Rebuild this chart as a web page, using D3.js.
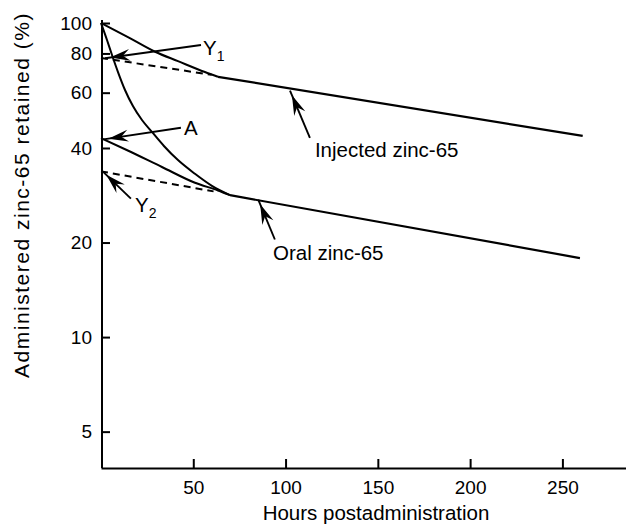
<!DOCTYPE html>
<html>
<head>
<meta charset="utf-8">
<script src="https://cdn.jsdelivr.net/npm/d3@7"></script>
<style>
  html, body { margin: 0; padding: 0; background: #fff; }
  svg { display: block; font-family: "Liberation Sans", Arial, Helvetica, sans-serif; }
</style>
</head>
<body>
<svg id="chart" width="626" height="524"></svg>
<script>
// Retention of zinc-65 (percent of administered dose, log scale) vs. hours.

// Injected dose: early fast-clearing curve, then the slow straight-line phase
const injCurveHours = [0, 14.6, 29.3, 41.7, 56.3, 63.4];
const injCurvePct   = [100, 90.2, 81.0, 75.6, 69.8, 67.4];
const injLineHours  = [63.4, 261];
const injLinePct    = [67.4, 43.7];
// Back-extrapolation of the injected slow phase to time zero (intercept Y1)
const y1Hours = [0, 60];
const y1Pct   = [77.4, 68.4];

// Oral dose: steep early curve, then slow straight-line phase
const oralCurveHours = [0, 3.25, 5.96, 9.21, 13.0, 17.3, 22.2, 27.6, 34.1, 41.7, 50.9, 60.1, 69.9];
const oralCurvePct   = [100, 88.3, 79.1, 69.8, 61.2, 54.4, 49.1, 45.0, 40.6, 36.6, 33.1, 30.3, 28.3];
const oralLineHours  = [69.9, 259.5];
const oralLinePct    = [28.3, 17.85];
// Curve starting at A (absorbed fraction)
const aCurveHours = [0, 14.8, 33.0, 50.9, 63.4, 69.9];
const aCurvePct   = [43.0, 39.2, 34.8, 31.0, 29.3, 28.3];
// Back-extrapolation of the oral slow phase to time zero (intercept Y2)
const y2Hours = [0, 61];
const y2Pct   = [33.7, 29.1];

// Axis ticks
const xTicks = [50, 100, 150, 200, 250];
const yTicks = [5, 10, 20, 40, 60, 80, 100];

// Annotations: label text, arrow tip / tail and label anchor in data units
const notes = [
  { text: "Y", sub: "1", tip: [2.2, 77.2],   tail: [54.2, 85.1], at: [55.3, 79.1] },
  { text: "A", sub: "",  tip: [1.3, 42.6],   tail: [43.3, 46.4], at: [45.0, 44.1] },
  { text: "Y", sub: "2", tip: [0.9, 33.7],   tail: [16.2, 27.6], at: [18.4, 25.1] },
  { text: "Injected zinc-65", sub: "", tip: [102.4, 60.9], tail: [113.2, 43.1], at: [115.9, 37.5] },
  { text: "Oral zinc-65", sub: "",     tip: [85.2, 27.4],  tail: [94.2, 20.45], at: [93.2, 17.66] }
];

const svg = d3.select("#chart");

const x = d3.scaleLinear().domain([0, 285]).range([101, 627]);
const y = d3.scaleLog().domain([3.83, 100]).range([468, 23]);

const zip = (hs, ps) => hs.map((h, i) => [h, ps[i]]);

// Axes
const xAxis = d3.axisBottom(x).tickValues(xTicks).tickSizeInner(-9).tickSizeOuter(0).tickPadding(13);
const yAxis = d3.axisLeft(y).tickValues(yTicks).tickFormat(d3.format("d")).tickSizeInner(-8).tickSizeOuter(0).tickPadding(10);

const gx = svg.append("g").attr("transform", "translate(0,468)").call(xAxis);
const gy = svg.append("g").attr("transform", "translate(102,0)").call(yAxis);

[gx, gy].forEach(g => {
  g.select(".domain").attr("stroke", "#000").attr("stroke-width", 2);
  g.selectAll(".tick line").attr("stroke", "#000").attr("stroke-width", 2);
  g.selectAll(".tick text").attr("fill", "#000").style("font-size", "19px")
    .style("font-family", "'Liberation Sans', Arial, sans-serif");
});
gy.select(".domain").attr("d", `M0,468V20`);

// Axis titles
svg.append("text")
  .attr("x", 376).attr("y", 520)
  .attr("text-anchor", "middle")
  .style("font-size", "20.5px")
  .text("Hours postadministration");

svg.append("text")
  .attr("transform", "translate(29,195) rotate(-90)")
  .attr("text-anchor", "middle")
  .style("font-size", "21px")
  .style("letter-spacing", "1.5px")
  .text("Administered zinc-65 retained (%)");

// Curves
const smooth = d3.line().x(d => x(d[0])).y(d => y(d[1])).curve(d3.curveMonotoneX);
const straight = d3.line().x(d => x(d[0])).y(d => y(d[1]));

const plot = svg.append("g").attr("fill", "none").attr("stroke", "#000");

plot.append("path").attr("d", smooth(zip(injCurveHours, injCurvePct))).attr("stroke-width", 2);
plot.append("path").attr("d", straight(zip(injLineHours, injLinePct))).attr("stroke-width", 2.2);
plot.append("path").attr("d", smooth(zip(oralCurveHours, oralCurvePct))).attr("stroke-width", 2);
plot.append("path").attr("d", smooth(zip(aCurveHours, aCurvePct))).attr("stroke-width", 2);
plot.append("path").attr("d", straight(zip(oralLineHours, oralLinePct))).attr("stroke-width", 2.2);

plot.append("path").attr("d", straight(zip(y1Hours, y1Pct)))
  .attr("stroke-width", 2).attr("stroke-dasharray", "7,5");
plot.append("path").attr("d", straight(zip(y2Hours, y2Pct)))
  .attr("stroke-width", 2).attr("stroke-dasharray", "7,5");

// Annotation arrows with dart-shaped heads
const ann = svg.append("g");
notes.forEach(n => {
  const tx = x(n.tip[0]), ty = y(n.tip[1]);
  const sx = x(n.tail[0]), sy = y(n.tail[1]);
  const len = Math.hypot(tx - sx, ty - sy);
  const ux = (tx - sx) / len, uy = (ty - sy) / len;
  const px = -uy, py = ux;
  const f = 5, L = 20, w = 6, notch = 7;
  const fx = tx - ux * f, fy = ty - uy * f;
  const bx = fx - ux * L, by = fy - uy * L;
  const nx = fx - ux * (L - notch), ny = fy - uy * (L - notch);
  ann.append("line")
    .attr("x1", sx).attr("y1", sy).attr("x2", tx).attr("y2", ty)
    .attr("stroke", "#000").attr("stroke-width", 1.9);
  ann.append("path")
    .attr("d", `M${fx},${fy}L${bx + px * w},${by + py * w}L${nx},${ny}L${bx - px * w},${by - py * w}Z`)
    .attr("fill", "#000");

  const t = ann.append("text")
    .attr("x", x(n.at[0])).attr("y", y(n.at[1]))
    .style("font-size", "20.5px")
    .text(n.text);
  if (n.sub) {
    t.append("tspan").attr("dy", 6).style("font-size", "14px").text(n.sub);
  }
});
</script>
</body>
</html>
